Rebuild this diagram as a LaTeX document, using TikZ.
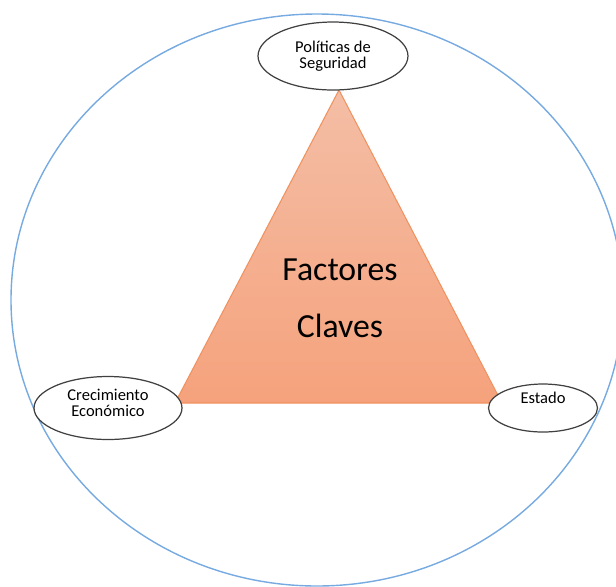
\documentclass[tikz,border=0pt]{standalone}
\usepackage{fontspec}
\setmainfont{Carlito}
\usetikzlibrary{shapes.geometric}
\definecolor{ringblue}{RGB}{118,170,224}
\definecolor{tritop}{RGB}{244,190,166}
\definecolor{tribot}{RGB}{245,162,124}
\definecolor{triedge}{RGB}{240,146,96}

\begin{document}
\begin{tikzpicture}[x=0.02cm,y=-0.02cm,
  factor/.style={draw=black!75,line width=0.7pt,ellipse,fill=white,inner sep=0pt,
    align=center,font=\fontsize{9.4}{9.1}\selectfont},
  ring/.style={draw=ringblue,line width=0.8pt},
  tri/.style={draw=triedge,line width=0.6pt,top color=tritop,bottom color=tribot}
  ]
  \useasboundingbox (0,0) rectangle (616,586);
  \clip (0,0) rectangle (616,586);

  \draw[ring] (317,300) ellipse [x radius=306, y radius=286];

  \coordinate (apex) at (339,90);
  \coordinate (bl) at (175,403);
  \coordinate (br) at (502,403);
  \draw[tri] (apex) -- (bl) -- (br) -- cycle;

  \node[align=center,font=\fontsize{19.2}{32.3}\selectfont] (clave) at (340,298)
    {Factores\\Claves};

  \node[factor,minimum width=3cm,minimum height=1.36cm] (poli) at (333,56)
    {Políticas de\\Seguridad};
  \node[factor,minimum width=2.96cm,minimum height=1.26cm,text depth=5.8pt] (creci) at (108,408)
    {Crecimiento\\Económico};
  \node[factor,minimum width=2.18cm,minimum height=0.96cm,text depth=12pt] (estado) at (543,408)
    {Estado};
\end{tikzpicture}
\end{document}
